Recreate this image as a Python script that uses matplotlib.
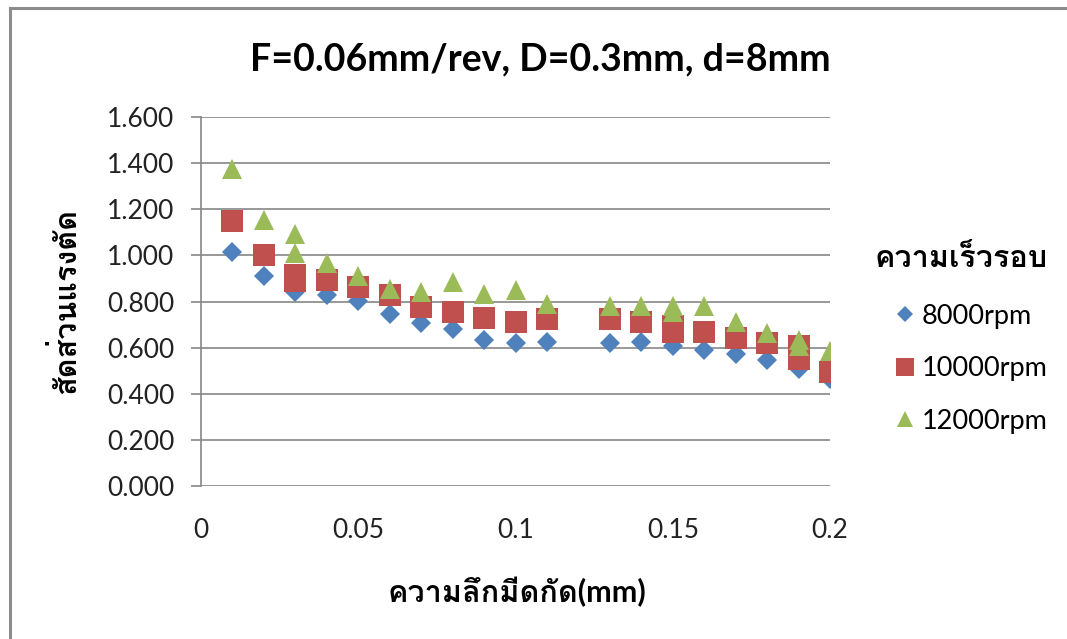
import matplotlib
matplotlib.use("Agg")
from matplotlib import pyplot as plt
from matplotlib import font_manager, ft2font
from matplotlib.lines import Line2D

# หาฟอนต์ที่มีอักษรไทย เพื่อใช้ต่อจาก Lato
thai_fonts = []
for f in font_manager.fontManager.ttflist:
    try:
        cmap = ft2font.FT2Font(f.fname).get_charmap()
    except Exception:
        continue
    if 0x0E01 in cmap and f.name not in thai_fonts:
        thai_fonts.append(f.name)

plt.rcParams['font.family'] = ['Lato'] + thai_fonts + ['DejaVu Sans']

# ความลึกมีดกัด (mm) และสัดส่วนแรงตัด ของแต่ละความเร็วรอบ
x_8000 = [0.01, 0.02, 0.03, 0.04, 0.05, 0.06, 0.07, 0.08, 0.09, 0.10, 0.11,
          0.13, 0.14, 0.15, 0.16, 0.17, 0.18, 0.19, 0.20]
y_8000 = [1.015, 0.909, 0.843, 0.828, 0.804, 0.745, 0.705, 0.681, 0.635, 0.622, 0.624,
          0.619, 0.624, 0.608, 0.588, 0.571, 0.546, 0.509, 0.465]

x_10000 = [0.01, 0.02, 0.03, 0.03, 0.04, 0.05, 0.06, 0.07, 0.08, 0.09, 0.10, 0.11,
           0.13, 0.14, 0.15, 0.15, 0.16, 0.17, 0.18, 0.19, 0.19, 0.20]
y_10000 = [1.151, 1.003, 0.913, 0.889, 0.893, 0.861, 0.827, 0.775, 0.756, 0.729, 0.713, 0.723,
           0.723, 0.713, 0.695, 0.666, 0.669, 0.640, 0.619, 0.608, 0.550, 0.496]

x_12000 = [0.01, 0.02, 0.03, 0.03, 0.04, 0.05, 0.06, 0.07, 0.08, 0.09, 0.10, 0.11,
           0.13, 0.14, 0.15, 0.15, 0.16, 0.17, 0.18, 0.19, 0.19, 0.20]
y_12000 = [1.375, 1.153, 1.093, 1.010, 0.966, 0.910, 0.856, 0.841, 0.886, 0.833, 0.848, 0.789,
           0.782, 0.782, 0.782, 0.753, 0.782, 0.713, 0.663, 0.632, 0.606, 0.587]

labels = ['8000rpm', '10000rpm', '12000rpm']
xticks = [0, 0.05, 0.1, 0.15, 0.2]
xtick_labels = ['0', '0.05', '0.1', '0.15', '0.2']
yticks = [0.0, 0.2, 0.4, 0.6, 0.8, 1.0, 1.2, 1.4, 1.6]

fig = plt.figure(figsize=(10.67, 6.39), dpi=100)
ax = fig.add_axes([0.1884, 0.2394, 0.5895, 0.5775])

ax.plot(x_8000, y_8000, linestyle='none', marker='D', markersize=10.2,
        color='#4F81BD', markeredgewidth=0, label=labels[0])
ax.plot(x_10000, y_10000, linestyle='none', marker='s', markersize=15.5,
        color='#C0504D', markeredgewidth=0, label=labels[1])
ax.plot(x_12000, y_12000, linestyle='none', marker='^', markersize=15,
        color='#9BBB59', markeredgewidth=0, label=labels[2])

ax.set_xlim(0, 0.2)
ax.set_ylim(0, 1.6)
ax.set_xticks(xticks)
ax.set_xticklabels(xtick_labels)
ax.set_yticks(yticks)
ax.set_yticklabels(['%.3f' % v for v in yticks])
ax.tick_params(axis='y', length=7, width=1.2, color='#868686', pad=12,
               labelsize=19, labelcolor='#222222')
ax.tick_params(axis='x', length=0, pad=23, labelsize=19, labelcolor='#222222')

ax.grid(axis='y', color='#868686', linewidth=1.2)
ax.set_axisbelow(True)
for s in ['top', 'right', 'bottom']:
    ax.spines[s].set_visible(False)
ax.spines['left'].set_color('#868686')
ax.spines['left'].set_linewidth(1.2)

fig.text(0.506, 0.907, 'F=0.06mm/rev, D=0.3mm, d=8mm', ha='center', va='center',
         fontsize=27, fontweight='bold')
fig.text(0.484, 0.074, 'ความลึกมีดกัด(mm)', ha='center', va='center',
         fontsize=22, fontweight='bold')
fig.text(0.061, 0.529, 'สัดส่วนแรงตัด', ha='center', va='center', rotation=90,
         fontsize=22, fontweight='bold')

# หัวข้อคำอธิบายสัญลักษณ์ วางแยกเหนือรายการ
fig.text(0.9007, 0.5962, 'ความเร็วรอบ', ha='center', va='center',
         fontsize=22, fontweight='bold')
fig.legend(loc='center left', bbox_to_anchor=(0.813, 0.423), frameon=False,
           fontsize=19.5, labelspacing=1.02, handletextpad=0.1,
           handlelength=1.0, markerscale=0.8)

# กรอบพื้นที่แผนภูมิ
fig.add_artist(Line2D([10 / 1067, 10 / 1067], [0, 1 - 7.5 / 639],
                      transform=fig.transFigure, color='#8c8c8c', linewidth=2.2))
fig.add_artist(Line2D([10 / 1067, 1], [1 - 7.5 / 639, 1 - 7.5 / 639],
                      transform=fig.transFigure, color='#8c8c8c', linewidth=2.2))

fig.savefig('out.png', dpi=100)
